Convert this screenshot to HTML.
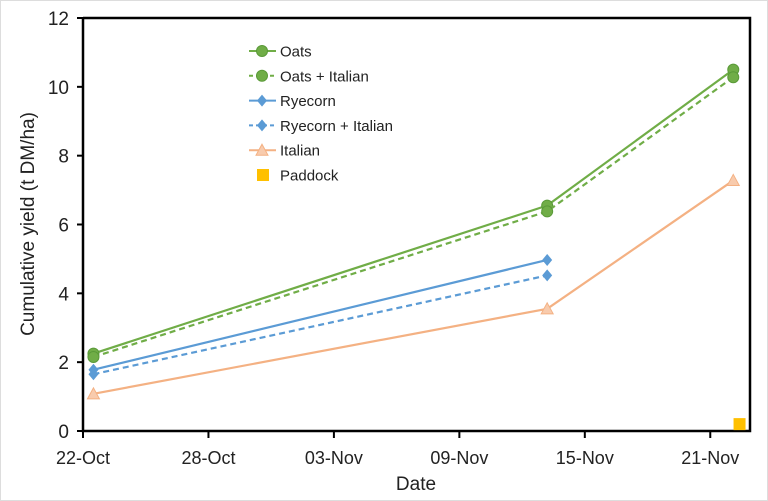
<!DOCTYPE html>
<html><head><meta charset="utf-8"><style>
body{margin:0;background:#fff;}
svg{display:block;font-family:"Liberation Sans",sans-serif;}
</style></head><body>
<svg id="c" width="768" height="501">
<rect x="0.5" y="0.5" width="767" height="500" fill="#fff" stroke="#ddd"/>
<g id="g"></g>
</svg>
<script>
const days=[0.5,22.2,31.1];
const oats=[2.25,6.55,10.5];
const oatsItalian=[2.15,6.38,10.28];
const ryecorn=[1.78,4.97];
const ryecornItalian=[1.65,4.52];
const italian=[1.08,3.55,7.28];
const paddockDay=[31.4];
const paddock=[0.2];
const xTickLabels=["22-Oct","28-Oct","03-Nov","09-Nov","15-Nov","21-Nov"];
const xTickDays=[0,6,12,18,24,30];
const yTicks=[0,2,4,6,8,10,12];
const X0=83,X1=750,Y0=431,Y1=18,DMAX=31.9,YMAX=12;
const sx=d=>X0+d/DMAX*(X1-X0), sy=v=>Y0-v/YMAX*(Y0-Y1);
const g=document.getElementById('g');const NS="http://www.w3.org/2000/svg";
function el(t,a,txt){const e=document.createElementNS(NS,t);for(const k in a)e.setAttribute(k,a[k]);if(txt!=null)e.textContent=txt;g.appendChild(e);return e;}
let e;
yTicks.forEach(v=>{e=el('line',{x1:X0-6,x2:X0,y1:sy(v),y2:sy(v),stroke:'#000','stroke-width':2});

e=el('text',{x:X0-14,y:sy(v)+7,'text-anchor':'end','font-size':19,fill:'#222'},v);
});
xTickDays.forEach((d,i)=>{e=el('line',{x1:sx(d),x2:sx(d),y1:Y0,y2:Y0+7,stroke:'#000','stroke-width':2});

e=el('text',{x:sx(d),y:Y0+33,'text-anchor':'middle','font-size':18,fill:'#222'},xTickLabels[i]);
});
e=el('polyline',{points:`${X0},${Y1} ${X0},${Y0} ${X1},${Y0} ${X1},${Y1} ${X0},${Y1}`,fill:'none',stroke:'#000','stroke-width':2.5});

e=el('text',{x:416,y:490,'text-anchor':'middle','font-size':19,fill:'#222'},'Date');

e=el('text',{x:0,y:0,transform:'translate(34,224) rotate(-90)','text-anchor':'middle','font-size':19,fill:'#222'},'Cumulative yield (t DM/ha)');

function marker(type,x,y,c){let m;
if(type==='circle')m=el('circle',{cx:x,cy:y,r:5.5,fill:'#70ad47',stroke:'#5a9a38'});
else if(type==='diamond')m=el('polygon',{points:`${x},${y-6} ${x+5},${y} ${x},${y+6} ${x-5},${y}`,fill:'#5b9bd5'});
else if(type==='tri')m=el('polygon',{points:`${x},${y-6} ${x+6},${y+5} ${x-6},${y+5}`,fill:'#f8cbad',stroke:'#f4b183'});
else m=el('rect',{x:x-6,y:y-6,width:12,height:12,fill:'#ffc000'});
return m;}
const series=[["oats",oats,'#70ad47','',"circle","Oats"],["oats-italian",oatsItalian,'#70ad47','6,4',"circle","Oats + Italian"],
["ryecorn",ryecorn,'#5b9bd5','',"diamond","Ryecorn"],["ryecorn-italian",ryecornItalian,'#5b9bd5','6,4',"diamond","Ryecorn + Italian"],
["italian",italian,'#f4b183','',"tri","Italian"]];
series.forEach(([n,vals,c,dash,mk,label],si)=>{
const pts=vals.map((v,i)=>sx(days[i])+','+sy(v)).join(' ');
e=el('polyline',{points:pts,fill:'none',stroke:c,'stroke-width':2.2,'stroke-dasharray':dash});

vals.forEach((v,i)=>{e=marker(mk,sx(days[i]),sy(v));});
const ly=51+si*24.8;
e=el('line',{x1:249,x2:276,y1:ly,y2:ly,stroke:c,'stroke-width':2,'stroke-dasharray':dash?'4,3':''});

e=marker(mk,262,ly);
e=el('text',{x:280,y:ly+5.5,'font-size':15,fill:'#222'},label);
});
paddock.forEach((v,i)=>{e=marker('sq',sx(paddockDay[i]),sy(v));});
e=marker('sq',263,175);
e=el('text',{x:280,y:180.5,'font-size':15,fill:'#222'},'Paddock');

</script>
</body></html>
